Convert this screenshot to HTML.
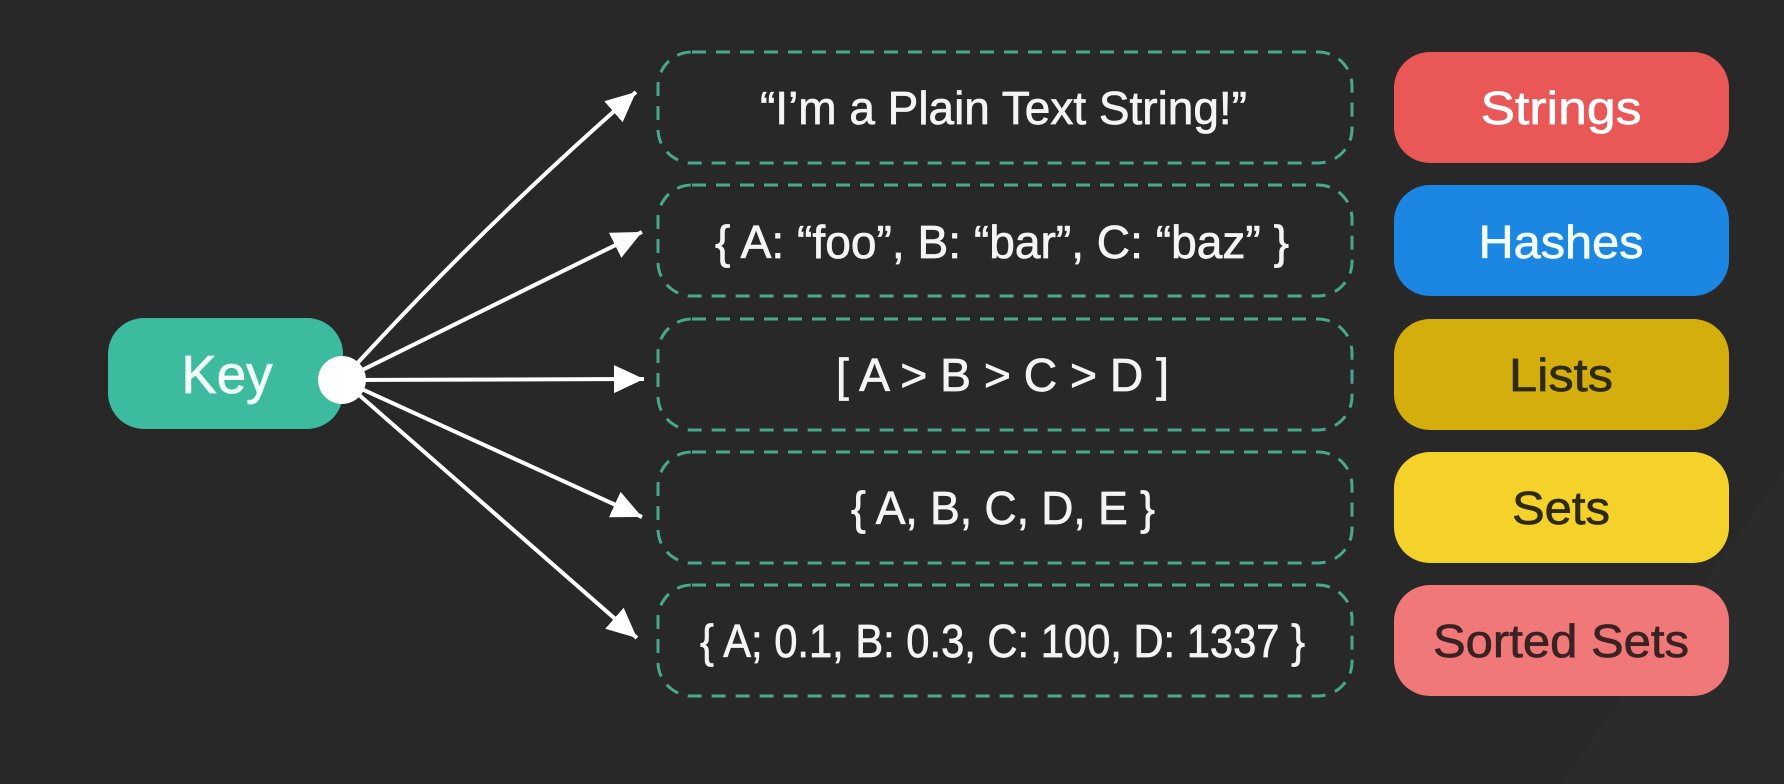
<!DOCTYPE html>
<html><head><meta charset="utf-8"><style>
html,body{margin:0;padding:0;background:#282828;}
svg{display:block;}
text{font-family:"Liberation Sans",sans-serif;}
</style></head><body>
<svg width="1784" height="784" viewBox="0 0 1784 784" xmlns="http://www.w3.org/2000/svg">
<defs>
<marker id="ah" markerUnits="userSpaceOnUse" markerWidth="32" markerHeight="30" refX="30" refY="14" orient="auto">
<path d="M0,0 L30,14 L0,28 z" fill="#ffffff"/>
</marker>
</defs>
<rect width="1784" height="784" fill="#282828"/>
<polygon points="1784,470 1784,784 1560,784" fill="#2b2b2b"/>

<rect x="108" y="318" width="235" height="111" rx="36" fill="#3dbb9f"/>
<text x="227" y="393" font-size="54" fill="#f2fff9" stroke="#f2fff9" stroke-width="0.8" text-anchor="middle" textLength="91" lengthAdjust="spacingAndGlyphs">Key</text>

<g stroke="#ffffff" stroke-width="4" fill="none" marker-end="url(#ah)">
<path d="M342,380 Q480,228 636,92"/>
<line x1="342" y1="380" x2="642" y2="232"/>
<line x1="342" y1="380" x2="644" y2="379"/>
<line x1="342" y1="380" x2="642" y2="517"/>
<line x1="342" y1="380" x2="637" y2="638"/>
</g>
<circle cx="342" cy="380" r="24" fill="#ffffff"/>

<g fill="none" stroke="#47a88c" stroke-width="3" stroke-dasharray="14 10">
<rect x="658" y="52" width="694" height="111" rx="34"/>
<rect x="658" y="185" width="694" height="111" rx="34"/>
<rect x="658" y="319" width="694" height="111" rx="34"/>
<rect x="658" y="452" width="694" height="111" rx="34"/>
<rect x="658" y="585" width="694" height="111" rx="34"/>
</g>
<g fill="#f4f4f4" stroke="#f4f4f4" stroke-width="0.7" font-size="46">
<text x="760" y="124" textLength="487" lengthAdjust="spacingAndGlyphs">“I’m a Plain Text String!”</text>
<text x="715" y="258" textLength="574" lengthAdjust="spacingAndGlyphs">{ A: “foo”, B: “bar”, C: “baz” }</text>
<text x="836" y="391" textLength="333" lengthAdjust="spacingAndGlyphs">[  A &gt; B &gt; C &gt; D  ]</text>
<text x="851" y="524" textLength="304" lengthAdjust="spacingAndGlyphs">{  A, B, C, D, E  }</text>
<text x="700" y="657" textLength="605" lengthAdjust="spacingAndGlyphs">{  A; 0.1, B: 0.3, C: 100, D: 1337 }</text>
</g>

<rect x="1394" y="52" width="335" height="111" rx="36" fill="#e95757"/>
<rect x="1394" y="185" width="335" height="111" rx="36" fill="#1c86e3"/>
<rect x="1394" y="319" width="335" height="111" rx="36" fill="#d4ae0c"/>
<rect x="1394" y="452" width="335" height="111" rx="36" fill="#f4d22a"/>
<rect x="1394" y="585" width="335" height="111" rx="36" fill="#f07878"/>
<g font-size="46" text-anchor="middle" stroke-width="0.7">
<text x="1561" y="124" fill="#ffffff" stroke="#ffffff" textLength="161" lengthAdjust="spacingAndGlyphs">Strings</text>
<text x="1561" y="258" fill="#f2fbff" stroke="#f2fbff" textLength="165" lengthAdjust="spacingAndGlyphs">Hashes</text>
<text x="1561" y="391" fill="#2e2a10" stroke="#2e2a10" textLength="104" lengthAdjust="spacingAndGlyphs">Lists</text>
<text x="1561" y="524" fill="#2e2a10" stroke="#2e2a10" textLength="98" lengthAdjust="spacingAndGlyphs">Sets</text>
<text x="1561" y="657" fill="#3a2222" stroke="#3a2222" textLength="256" lengthAdjust="spacingAndGlyphs">Sorted Sets</text>
</g>
</svg>
</body></html>
